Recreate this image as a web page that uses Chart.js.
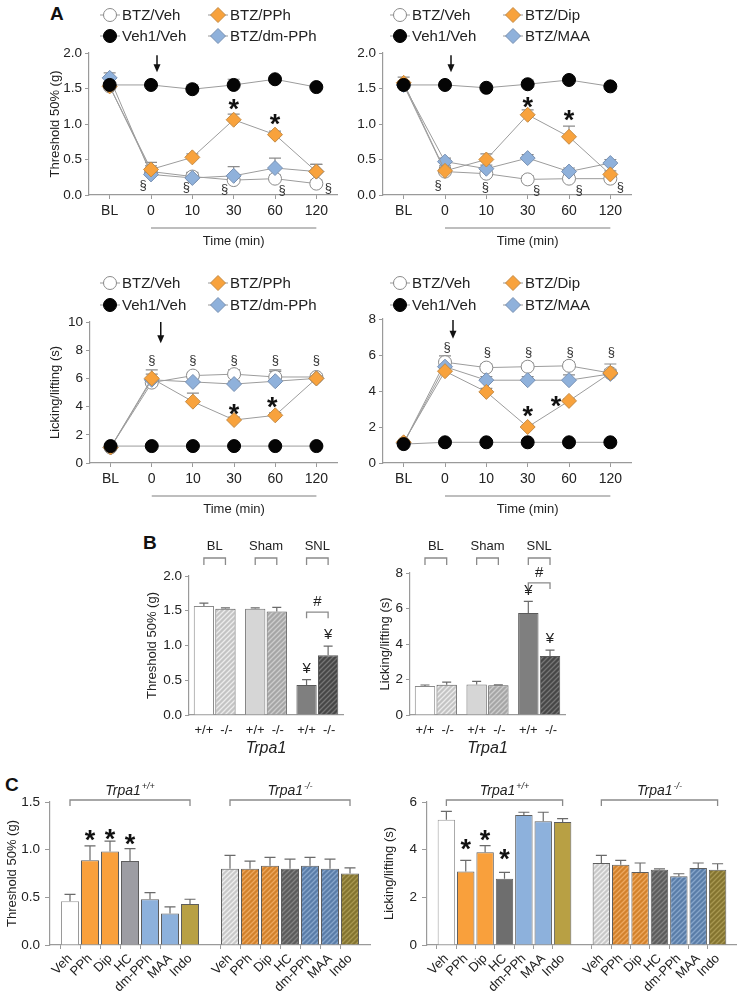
<!DOCTYPE html>
<html>
<head>
<meta charset="utf-8">
<script src="https://cdn.jsdelivr.net/npm/chart.js@4.4.1/dist/chart.umd.min.js"></script>
<style>
html,body{margin:0;padding:0;background:#fff;}
#wrap{position:relative;width:750px;height:992px;overflow:hidden;background:#fff;}
#wrap canvas{position:absolute;left:0;top:0;}
.plabel{position:absolute;font:bold 19px "Liberation Sans",Arial,sans-serif;line-height:19px;color:#111;}
</style>
</head>
<body>
<div id="wrap">
<div class="plabel" style="left:50px;top:4px">A</div>
<div class="plabel" style="left:143px;top:533px">B</div>
<div class="plabel" style="left:5px;top:775px">C</div>
</div>
<script>
// ---------------- DATA ----------------
const timeCats = ['BL', '0', '10', '30', '60', '120'];

// Panel A, threshold, BTZ/PPh set
const thrA_btzVeh    = [1.53, 0.33, 0.26, 0.21, 0.23, 0.16];
const thrA_veh1Veh   = [1.55, 1.55, 1.49, 1.55, 1.63, 1.52];
const thrA_btzPPh    = [1.53, 0.36, 0.53, 1.06, 0.85, 0.33];
const thrA_btzDmPPh  = [1.65, 0.29, 0.24, 0.27, 0.38, 0.33];
const thrA_errVeh    = [0.05, 0.08, 0.05, 0.05, 0.05, 0.05];
const thrA_errVeh1   = [0.03, 0.03, 0.06, 0.08, 0.04, 0.03];
const thrA_errPPh    = [0.05, 0.10, 0.05, 0.08, 0.05, 0.10];
const thrA_errDm     = [0.07, 0.06, 0.08, 0.13, 0.14, 0.10];

// Panel A, threshold, BTZ/Dip set
const thrB_btzVeh    = [1.55, 0.33, 0.30, 0.22, 0.23, 0.23];
const thrB_veh1Veh   = [1.55, 1.55, 1.51, 1.56, 1.62, 1.53];
const thrB_btzDip    = [1.58, 0.34, 0.50, 1.13, 0.82, 0.29];
const thrB_btzMAA    = [1.55, 0.47, 0.37, 0.52, 0.33, 0.45];
const thrB_errVeh    = [0.05, 0.08, 0.05, 0.05, 0.05, 0.05];
const thrB_errVeh1   = [0.03, 0.03, 0.03, 0.06, 0.03, 0.03];
const thrB_errDip    = [0.08, 0.05, 0.08, 0.07, 0.15, 0.05];
const thrB_errMAA    = [0.05, 0.05, 0.05, 0.05, 0.05, 0.05];

// Panel A, licking, BTZ/PPh set
const lickA_btzVeh   = [1.1, 5.7, 6.2, 6.3, 6.1, 6.1];
const lickA_veh1Veh  = [1.2, 1.2, 1.2, 1.2, 1.2, 1.2];
const lickA_btzPPh   = [1.1, 6.0, 4.35, 3.05, 3.38, 6.0];
const lickA_btzDmPPh = [1.1, 5.9, 5.75, 5.6, 5.8, 6.0];
const lickA_errVeh   = [0.2, 0.3, 0.2, 0.3, 0.4, 0.2];
const lickA_errVeh1  = [0.1, 0.1, 0.1, 0.1, 0.1, 0.1];
const lickA_errPPh   = [0.1, 0.6, 0.6, 0.2, 0.2, 0.2];
const lickA_errDm    = [0.1, 0.4, 0.3, 0.2, 0.8, 0.2];

// Panel A, licking, BTZ/Dip set
const lickB_btzVeh   = [1.1, 5.6, 5.3, 5.35, 5.4, 5.0];
const lickB_veh1Veh  = [1.05, 1.15, 1.15, 1.15, 1.15, 1.15];
const lickB_btzDip   = [1.15, 5.1, 3.95, 2.0, 3.45, 5.0];
const lickB_btzMAA   = [1.1, 5.35, 4.6, 4.6, 4.6, 4.95];
const lickB_errVeh   = [0.1, 0.35, 0.2, 0.2, 0.2, 0.5];
const lickB_errVeh1  = [0.08, 0.08, 0.08, 0.08, 0.08, 0.08];
const lickB_errDip   = [0.1, 0.2, 0.2, 0.1, 0.1, 0.2];
const lickB_errMAA   = [0.1, 0.2, 0.2, 0.2, 0.3, 0.2];

// Panel B
const bGroups      = ['BL', 'Sham', 'SNL'];
const bThrWT       = [1.57, 1.53, 0.43];
const bThrWTErr    = [0.04, 0.01, 0.08];
const bThrKO       = [1.53, 1.49, 0.86];
const bThrKOErr    = [0.01, 0.06, 0.13];
const bLickWT      = [1.64, 1.72, 5.75];
const bLickWTErr   = [0.05, 0.17, 0.65];
const bLickKO      = [1.70, 1.68, 3.33];
const bLickKOErr   = [0.15, 0.02, 0.32];

// Panel C
const cDrugs       = ['Veh', 'PPh', 'Dip', 'HC', 'dm-PPh', 'MAA', 'Indo'];
const cThrWT       = [0.46, 0.89, 0.98, 0.88, 0.48, 0.33, 0.43];
const cThrWTErr    = [0.07, 0.15, 0.11, 0.13, 0.07, 0.07, 0.05];
const cThrKO       = [0.80, 0.80, 0.83, 0.80, 0.83, 0.80, 0.75];
const cThrKOErr    = [0.14, 0.08, 0.09, 0.10, 0.09, 0.10, 0.06];
const cLickWT      = [5.26, 3.08, 3.89, 2.78, 5.45, 5.19, 5.16];
const cLickWTErr   = [0.35, 0.47, 0.28, 0.27, 0.12, 0.38, 0.14];
const cLickKO      = [3.44, 3.37, 3.06, 3.16, 2.88, 3.23, 3.16];
const cLickKOErr   = [0.32, 0.18, 0.38, 0.03, 0.11, 0.21, 0.25];

// ---------------- SETUP ----------------
const FONT = '"Liberation Sans", Arial, sans-serif';
Chart.defaults.font.family = FONT;
Chart.defaults.color = '#222';
const wrap = document.getElementById('wrap');
const AXC = '#9a9a9a';

const MARK = {
  white:  {pointStyle: 'circle',  r: 6.5, fill: '#ffffff', stroke: '#8a8a8a'},
  black:  {pointStyle: 'circle',  r: 6.5, fill: '#050505', stroke: '#000000'},
  orange: {pointStyle: 'rectRot', r: 7.5, fill: '#f8a23c', stroke: '#c48a44'},
  blue:   {pointStyle: 'rectRot', r: 7.5, fill: '#8fb1db', stroke: '#7890b2'}
};

function hatch(base, line) {
  const c = document.createElement('canvas');
  const s = 5; c.width = s; c.height = s;
  const x = c.getContext('2d');
  x.fillStyle = base; x.fillRect(0, 0, s, s);
  x.strokeStyle = line; x.lineWidth = 1.3;
  x.beginPath();
  x.moveTo(0, s); x.lineTo(s, 0);
  x.moveTo(-s, s); x.lineTo(s, -s);
  x.moveTo(0, 2 * s); x.lineTo(2 * s, 0);
  x.stroke();
  return x.createPattern(c, 'repeat');
}

function mk(box, config) {
  const cv = document.createElement('canvas');
  cv.width = 750; cv.height = 992;
  cv.style.width = '750px'; cv.style.height = '992px';
  wrap.appendChild(cv);
  const o = config.options;
  o.responsive = false; o.animation = false; o.devicePixelRatio = 1;
  o.events = [];
  o.layout = {padding: {left: box.ax - box.yW, top: box.top, right: 750 - box.right, bottom: 992 - box.axY - box.xH}};
  o.scales.y.afterFit = s => { s.width = box.yW; };
  o.scales.x.afterFit = s => { s.height = box.xH; };
  o.plugins = Object.assign({legend: {display: false}, tooltip: {enabled: false}}, o.plugins || {});
  return new Chart(cv, config);
}

function errPlugin(color, cap, after) {
  const draw = chart => {
    const ctx = chart.ctx, ys = chart.scales.y;
    chart.data.datasets.forEach((ds, di) => {
      if (!ds.errors) return;
      const meta = chart.getDatasetMeta(di);
      meta.data.forEach((el, i) => {
        const v = ds.data[i], e = ds.errors[i];
        if (v == null || e == null) return;
        const y0 = ys.getPixelForValue(v), y1 = ys.getPixelForValue(v + e);
        ctx.save();
        ctx.strokeStyle = color; ctx.lineWidth = 1.2;
        ctx.beginPath();
        ctx.moveTo(el.x, y0); ctx.lineTo(el.x, y1);
        ctx.moveTo(el.x - cap / 2, y1); ctx.lineTo(el.x + cap / 2, y1);
        ctx.stroke();
        ctx.restore();
      });
    });
  };
  return after ? {id: 'errA', afterDatasetsDraw: draw} : {id: 'errB', beforeDatasetsDraw: draw};
}

function drawMarker(ctx, kind, x, y) {
  const m = MARK[kind];
  ctx.save();
  ctx.fillStyle = m.fill; ctx.strokeStyle = m.stroke; ctx.lineWidth = 1;
  ctx.beginPath();
  if (m.pointStyle === 'circle') ctx.arc(x, y, m.r, 0, Math.PI * 2);
  else { ctx.moveTo(x - m.r, y); ctx.lineTo(x, y - m.r); ctx.lineTo(x + m.r, y); ctx.lineTo(x, y + m.r); ctx.closePath(); }
  ctx.fill(); ctx.stroke();
  ctx.restore();
}

function star(ctx, x, yc) {
  ctx.save();
  ctx.font = 'bold 27px ' + FONT;
  ctx.fillStyle = '#111'; ctx.textAlign = 'center'; ctx.textBaseline = 'alphabetic';
  ctx.fillText('*', x, yc + 16);
  ctx.restore();
}

function bracket(ctx, x0, x1, y, h) {
  ctx.save();
  ctx.strokeStyle = '#8a8a8a'; ctx.lineWidth = 1.3;
  ctx.beginPath();
  ctx.moveTo(x0, y + h); ctx.lineTo(x0, y); ctx.lineTo(x1, y); ctx.lineTo(x1, y + h);
  ctx.stroke();
  ctx.restore();
}

// ---------------- LINE CHARTS (A) ----------------
function lineChart(box, yOpt, series, deco) {
  const datasets = series.map(s => {
    const m = MARK[s.kind];
    return {
      label: s.label, data: s.data, errors: s.err, order: s.order,
      borderColor: '#9c9c9c', borderWidth: 1, tension: 0, fill: false,
      pointStyle: m.pointStyle, pointRadius: m.r, pointHoverRadius: m.r,
      pointBackgroundColor: m.fill, pointBorderColor: m.stroke, pointBorderWidth: 1
    };
  });
  const decoPlugin = {
    id: 'lineDeco',
    afterDraw(chart) {
      const ctx = chart.ctx, xs = chart.scales.x, ys = chart.scales.y;
      const px = c => xs.getPixelForValue(timeCats.indexOf(c));
      const y0 = ys.getPixelForValue(0);
      ctx.save();
      // Time bracket line and title
      ctx.strokeStyle = '#a8a8a8'; ctx.lineWidth = 1.6;
      ctx.beginPath(); ctx.moveTo(px('0'), y0 + 33); ctx.lineTo(px('120'), y0 + 33); ctx.stroke();
      ctx.fillStyle = '#222'; ctx.font = '13px ' + FONT; ctx.textAlign = 'center'; ctx.textBaseline = 'middle';
      ctx.fillText('Time (min)', (px('0') + px('120')) / 2, y0 + 46);
      // arrow
      const ax = px(deco.arrow.cat) + deco.arrow.dx;
      const ay0 = ys.getPixelForValue(deco.arrow.from), ay1 = ys.getPixelForValue(deco.arrow.to);
      ctx.strokeStyle = '#111'; ctx.fillStyle = '#111'; ctx.lineWidth = 1.5;
      ctx.beginPath(); ctx.moveTo(ax, ay0); ctx.lineTo(ax, ay1 - 6); ctx.stroke();
      ctx.beginPath(); ctx.moveTo(ax - 3.5, ay1 - 8); ctx.lineTo(ax + 3.5, ay1 - 8); ctx.lineTo(ax, ay1); ctx.closePath(); ctx.fill();
      // section marks
      ctx.fillStyle = '#333'; ctx.font = '13px ' + FONT; ctx.textAlign = 'center'; ctx.textBaseline = 'middle';
      deco.sects.forEach(s => ctx.fillText('§', px(s.cat) + s.dx, ys.getPixelForValue(s.v)));
      // stars
      deco.stars.forEach(s => star(ctx, px(s.cat) + (s.dx || 0), ys.getPixelForValue(s.v)));
      // legend
      const L = deco.legend;
      L.items.forEach(it => {
        const x = L.cols[it.col], y = L.rows[it.row];
        ctx.strokeStyle = '#999'; ctx.lineWidth = 1;
        ctx.beginPath(); ctx.moveTo(x - 10, y); ctx.lineTo(x + 10, y); ctx.stroke();
        drawMarker(ctx, it.kind, x, y);
        ctx.fillStyle = '#222'; ctx.font = '15px ' + FONT; ctx.textAlign = 'left'; ctx.textBaseline = 'middle';
        ctx.fillText(it.text, x + 12, y + 1);
      });
      ctx.restore();
    }
  };
  return mk(box, {
    type: 'line',
    data: {labels: timeCats, datasets},
    options: {
      scales: {
        x: {type: 'category', offset: true,
            grid: {drawOnChartArea: false, tickLength: 4, color: AXC},
            border: {color: AXC, width: 1.2},
            ticks: {font: {size: 14}, color: '#222', padding: 4}},
        y: {min: 0, max: yOpt.max,
            grid: {drawOnChartArea: false, tickLength: 4, color: AXC},
            border: {color: AXC, width: 1.2},
            ticks: {stepSize: yOpt.step, font: {size: 13.5}, color: '#222', padding: 3, callback: yOpt.fmt},
            title: yOpt.title ? {display: true, text: yOpt.title, font: {size: 13}, color: '#222', padding: 0} : {display: false}}
      }
    },
    plugins: [errPlugin('#8c8c8c', 12, false), decoPlugin]
  });
}

const fmt1 = v => v.toFixed(1);
const fmt0 = v => String(v);
const legPPh = [
  {col: 0, row: 0, kind: 'white', text: 'BTZ/Veh'},
  {col: 1, row: 0, kind: 'orange', text: 'BTZ/PPh'},
  {col: 0, row: 1, kind: 'black', text: 'Veh1/Veh'},
  {col: 1, row: 1, kind: 'blue', text: 'BTZ/dm-PPh'}
];
const legDip = [
  {col: 0, row: 0, kind: 'white', text: 'BTZ/Veh'},
  {col: 1, row: 0, kind: 'orange', text: 'BTZ/Dip'},
  {col: 0, row: 1, kind: 'black', text: 'Veh1/Veh'},
  {col: 1, row: 1, kind: 'blue', text: 'BTZ/MAA'}
];

// A top-left
lineChart({ax: 89, right: 337, top: 53, axY: 195, yW: 41, xH: 60},
  {max: 2, step: 0.5, fmt: fmt1, title: 'Threshold 50% (g)'},
  [
    {label: 'Veh1/Veh', kind: 'black', data: thrA_veh1Veh, err: thrA_errVeh1, order: 0},
    {label: 'BTZ/PPh', kind: 'orange', data: thrA_btzPPh, err: thrA_errPPh, order: 1},
    {label: 'BTZ/dm-PPh', kind: 'blue', data: thrA_btzDmPPh, err: thrA_errDm, order: 2},
    {label: 'BTZ/Veh', kind: 'white', data: thrA_btzVeh, err: thrA_errVeh, order: 3}
  ],
  {arrow: {cat: '0', dx: 6, from: 1.97, to: 1.73},
   stars: [{cat: '30', v: 1.31}, {cat: '60', v: 1.10}],
   sects: [{cat: '0', dx: -8, v: 0.13}, {cat: '10', dx: -6, v: 0.11}, {cat: '30', dx: -9, v: 0.08}, {cat: '60', dx: 7, v: 0.07}, {cat: '120', dx: 12, v: 0.09}],
   legend: {cols: [110, 218], rows: [15, 36], items: legPPh}});

// A top-right
lineChart({ax: 383, right: 631, top: 53, axY: 195, yW: 30, xH: 60},
  {max: 2, step: 0.5, fmt: fmt1, title: null},
  [
    {label: 'Veh1/Veh', kind: 'black', data: thrB_veh1Veh, err: thrB_errVeh1, order: 0},
    {label: 'BTZ/Dip', kind: 'orange', data: thrB_btzDip, err: thrB_errDip, order: 1},
    {label: 'BTZ/MAA', kind: 'blue', data: thrB_btzMAA, err: thrB_errMAA, order: 2},
    {label: 'BTZ/Veh', kind: 'white', data: thrB_btzVeh, err: thrB_errVeh, order: 3}
  ],
  {arrow: {cat: '0', dx: 6, from: 1.97, to: 1.73},
   stars: [{cat: '30', v: 1.34}, {cat: '60', v: 1.15}],
   sects: [{cat: '0', dx: -7, v: 0.13}, {cat: '10', dx: -1, v: 0.11}, {cat: '30', dx: 9, v: 0.07}, {cat: '60', dx: 10, v: 0.07}, {cat: '120', dx: 10, v: 0.11}],
   legend: {cols: [400, 513], rows: [15, 36], items: legDip}});

// A bottom-left
lineChart({ax: 90, right: 337, top: 322, axY: 463, yW: 42, xH: 60},
  {max: 10, step: 2, fmt: fmt0, title: 'Licking/lifting (s)'},
  [
    {label: 'Veh1/Veh', kind: 'black', data: lickA_veh1Veh, err: lickA_errVeh1, order: 0},
    {label: 'BTZ/PPh', kind: 'orange', data: lickA_btzPPh, err: lickA_errPPh, order: 1},
    {label: 'BTZ/dm-PPh', kind: 'blue', data: lickA_btzDmPPh, err: lickA_errDm, order: 2},
    {label: 'BTZ/Veh', kind: 'white', data: lickA_btzVeh, err: lickA_errVeh, order: 3}
  ],
  {arrow: {cat: '0', dx: 9, from: 10, to: 8.5},
   stars: [{cat: '30', v: 3.97}, {cat: '60', v: 4.47, dx: -3}],
   sects: ['0', '10', '30', '60', '120'].map(c => ({cat: c, dx: 0, v: 7.3})),
   legend: {cols: [110, 218], rows: [283, 305], items: legPPh}});

// A bottom-right
lineChart({ax: 383, right: 631, top: 319, axY: 463, yW: 30, xH: 60},
  {max: 8, step: 2, fmt: fmt0, title: null},
  [
    {label: 'Veh1/Veh', kind: 'black', data: lickB_veh1Veh, err: lickB_errVeh1, order: 0},
    {label: 'BTZ/Dip', kind: 'orange', data: lickB_btzDip, err: lickB_errDip, order: 1},
    {label: 'BTZ/MAA', kind: 'blue', data: lickB_btzMAA, err: lickB_errMAA, order: 2},
    {label: 'BTZ/Veh', kind: 'white', data: lickB_btzVeh, err: lickB_errVeh, order: 3}
  ],
  {arrow: {cat: '0', dx: 8, from: 7.95, to: 6.9},
   stars: [{cat: '30', v: 3.0}, {cat: '60', v: 3.55, dx: -13}],
   sects: [{cat: '0', dx: 2, v: 6.44}, {cat: '10', dx: 1, v: 6.12}, {cat: '30', dx: 1, v: 6.15}, {cat: '60', dx: 1, v: 6.15}, {cat: '120', dx: 1, v: 6.15}],
   legend: {cols: [400, 513], rows: [283, 305], items: legDip}});

// ---------------- BAR CHARTS (B) ----------------
function pairBar(box, yOpt, wt, wtErr, ko, koErr, deco) {
  const wtColors = ['#ffffff', '#d6d6d6', '#7f7f7f'];
  const koColors = [hatch('#c4c4c4', '#ececec'), hatch('#a6a6a6', '#cdcdcd'), hatch('#474747', '#767676')];
  const bDeco = {
    id: 'bDeco',
    afterDatasetsDraw(chart) {
      const ctx = chart.ctx, ys = chart.scales.y;
      const m0 = chart.getDatasetMeta(0).data, m1 = chart.getDatasetMeta(1).data;
      const yAxis = ys.getPixelForValue(0);
      ctx.save();
      ctx.fillStyle = '#222'; ctx.textAlign = 'center'; ctx.textBaseline = 'middle';
      chart.data.labels.forEach((g, i) => {
        const x0 = m0[i].x, x1 = m1[i].x;
        bracket(ctx, x0, x1, deco.brY, 7);
        ctx.font = '13px ' + FONT;
        ctx.fillText(g, (x0 + x1) / 2, deco.brY - 12);
        ctx.fillText('+/+', x0, yAxis + 15);
        ctx.fillText('-/-', x1 + 1, yAxis + 15);
      });
      ctx.font = 'italic 16px ' + FONT;
      ctx.fillText('Trpa1', (chart.chartArea.left + chart.chartArea.right) / 2, yAxis + 34);
      const hy = ys.getPixelForValue(deco.hashV);
      bracket(ctx, m0[2].x, m1[2].x, hy, 6);
      ctx.font = '15px ' + FONT;
      ctx.fillText('#', (m0[2].x + m1[2].x) / 2, hy - 10);
      [0, 1].forEach(di => {
        const ds = chart.data.datasets[di], el = chart.getDatasetMeta(di).data[2];
        ctx.fillText('¥', el.x, ys.getPixelForValue(ds.data[2] + ds.errors[2]) - 11);
      });
      ctx.restore();
    }
  };
  return mk(box, {
    type: 'bar',
    data: {labels: bGroups, datasets: [
      {label: '+/+', data: wt, errors: wtErr, backgroundColor: wtColors, borderColor: ['#8a8a8a', '#6f6f6f', '#5a5a5a'], borderWidth: 1, categoryPercentage: 0.84, barPercentage: 0.94},
      {label: '-/-', data: ko, errors: koErr, backgroundColor: koColors, borderColor: '#5a5a5a', borderWidth: 1, categoryPercentage: 0.84, barPercentage: 0.94}
    ]},
    options: {
      scales: {
        x: {grid: {display: false, drawTicks: false}, border: {color: AXC, width: 1.2}, ticks: {display: false}},
        y: {min: 0, max: yOpt.max,
            grid: {drawOnChartArea: false, tickLength: 4, color: AXC},
            border: {color: AXC, width: 1.2},
            ticks: {stepSize: yOpt.step, font: {size: 13.5}, color: '#222', padding: 3, callback: yOpt.fmt},
            title: {display: true, text: yOpt.title, font: {size: 13}, color: '#222', padding: 0}}
      }
    },
    plugins: [errPlugin('#6a6a6a', 9, true), bDeco]
  });
}

pairBar({ax: 189, right: 343, top: 576, axY: 715, yW: 44, xH: 20},
  {max: 2, step: 0.5, fmt: fmt1, title: 'Threshold 50% (g)'},
  bThrWT, bThrWTErr, bThrKO, bThrKOErr, {brY: 558, hashV: 1.48});

pairBar({ax: 410, right: 565, top: 573, axY: 715, yW: 32, xH: 20},
  {max: 8, step: 2, fmt: fmt0, title: 'Licking/lifting (s)'},
  bLickWT, bLickWTErr, bLickKO, bLickKOErr, {brY: 558, hashV: 7.44});

// ---------------- BAR CHARTS (C) ----------------
function cChart(box, yOpt, wt, wtErr, ko, koErr, hcColor, stars) {
  const labels = [''].concat(cDrugs, [''], cDrugs, ['']);
  const data = [null].concat(wt, [null], ko, [null]);
  const errs = [null].concat(wtErr, [null], koErr, [null]);
  const solid = ['#ffffff', '#f9a03c', '#f9a03c', hcColor, '#8db1dc', '#8db1dc', '#b8a044'];
  const hatched = [hatch('#c9c9c9', '#eeeeee'), hatch('#d3822c', '#eda85f'), hatch('#d3822c', '#eda85f'),
                   hatch('#5c5c5c', '#838383'), hatch('#5a7da8', '#86a5ca'), hatch('#5a7da8', '#86a5ca'), hatch('#847430', '#a89852')];
  const colors = [null].concat(solid, [null], hatched, [null]);
  const borders = labels.map((l, i) => (i === 1 ? '#9a9a9a' : '#5e5e5e'));
  const cDeco = {
    id: 'cDeco',
    afterDatasetsDraw(chart) {
      const ctx = chart.ctx, xs = chart.scales.x, ys = chart.scales.y;
      ctx.save();
      [[1, 7, '+/+'], [9, 15, '-/-']].forEach(([a, b, sup]) => {
        const x0 = xs.getPixelForValue(a), x1 = xs.getPixelForValue(b);
        bracket(ctx, x0, x1, yOpt.brY, 6);
        ctx.font = 'italic 14px ' + FONT;
        const w1 = ctx.measureText('Trpa1').width;
        ctx.font = 'italic 9px ' + FONT;
        const w2 = ctx.measureText(sup).width;
        const cx = (x0 + x1) / 2, sx = cx - (w1 + w2 + 1) / 2, ty = yOpt.brY - 9;
        ctx.fillStyle = '#222'; ctx.textAlign = 'left'; ctx.textBaseline = 'middle';
        ctx.font = 'italic 14px ' + FONT;
        ctx.fillText('Trpa1', sx, ty);
        ctx.font = 'italic 9px ' + FONT;
        ctx.fillText(sup, sx + w1 + 1, ty - 5);
      });
      stars.forEach(s => star(ctx, xs.getPixelForValue(s.i), ys.getPixelForValue(s.v)));
      ctx.restore();
    }
  };
  return mk(box, {
    type: 'bar',
    data: {labels, datasets: [{data, errors: errs, backgroundColor: colors, borderColor: borders, borderWidth: 1,
      categoryPercentage: 1, barPercentage: 0.9}]},
    options: {
      scales: {
        x: {offset: false,
            grid: {drawOnChartArea: false, tickLength: 4, color: c => (c.tick && c.tick.label === '' ? 'rgba(0,0,0,0)' : AXC)},
            border: {color: AXC, width: 1.2},
            ticks: {autoSkip: false, minRotation: 45, maxRotation: 45, font: {size: 13}, color: '#222', padding: 2}},
        y: {min: 0, max: yOpt.max,
            grid: {drawOnChartArea: false, tickLength: 5, color: AXC},
            border: {color: AXC, width: 1.2},
            ticks: {stepSize: yOpt.step, font: {size: 13.5}, color: '#222', padding: 5, callback: yOpt.fmt},
            title: {display: true, text: yOpt.title, font: {size: 13}, color: '#222', padding: 0}}
      }
    },
    plugins: [errPlugin('#6a6a6a', 11, true), cDeco]
  });
}

cChart({ax: 50, right: 370, top: 802, axY: 945, yW: 45, xH: 47},
  {max: 1.5, step: 0.5, fmt: fmt1, title: 'Threshold 50% (g)', brY: 800},
  cThrWT, cThrWTErr, cThrKO, cThrKOErr, '#9d9da3',
  [{i: 2, v: 1.18}, {i: 3, v: 1.19}, {i: 4, v: 1.13}]);

cChart({ax: 427, right: 745, top: 802, axY: 945, yW: 45, xH: 47},
  {max: 6, step: 2, fmt: fmt0, title: 'Licking/lifting (s)', brY: 800},
  cLickWT, cLickWTErr, cLickKO, cLickKOErr, '#6e6e6e',
  [{i: 2, v: 4.34}, {i: 3, v: 4.72}, {i: 4, v: 3.92}]);
</script>
</body>
</html>
